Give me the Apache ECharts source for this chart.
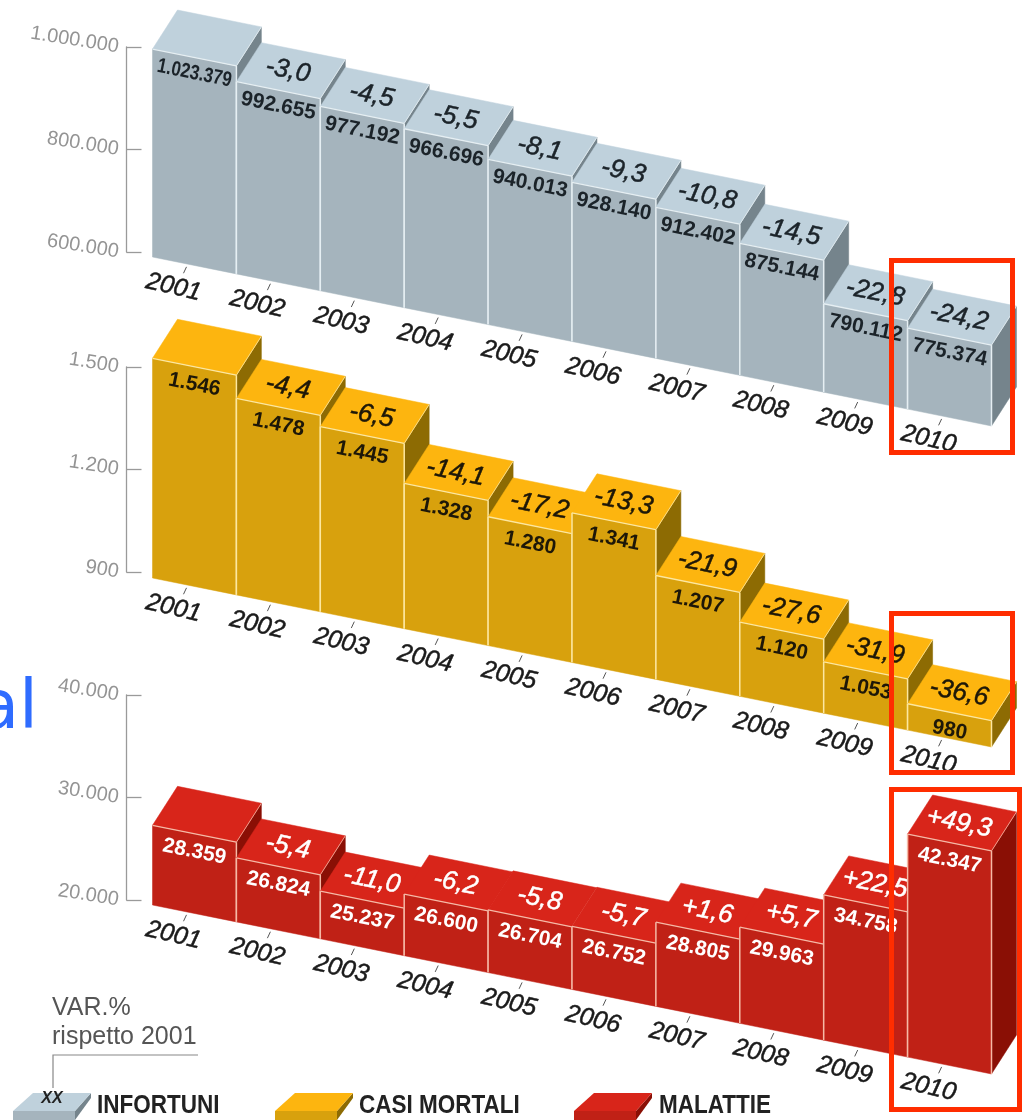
<!DOCTYPE html>
<html><head><meta charset="utf-8">
<style>html,body{margin:0;padding:0;background:#fff}#c{width:1027px;height:1120px}</style>
<script src="https://cdn.jsdelivr.net/npm/echarts@6/dist/echarts.min.js"></script>
</head><body><div id="c"></div>
<script>
const years = ['2001','2002','2003','2004','2005','2006','2007','2008','2009','2010'];
const infortuni = [1023379,992655,977192,966696,940013,928140,912402,875144,790112,775374];
const infortuniVar = [null,-3.0,-4.5,-5.5,-8.1,-9.3,-10.8,-14.5,-22.8,-24.2];
const mortali = [1546,1478,1445,1328,1280,1341,1207,1120,1053,980];
const mortaliVar = [null,-4.4,-6.5,-14.1,-17.2,-13.3,-21.9,-27.6,-31.9,-36.6];
const malattie = [28359,26824,25237,26600,26704,26752,28805,29963,34758,42347];
const malattieVar = [null,-5.4,-11.0,-6.2,-5.8,-5.7,1.6,5.7,22.5,49.3];

const SLOPE = 0.2014, LEFT = 152.5, WIDTH = 839, DX = 25, DY = -39;
const ANG = -Math.atan(SLOPE);
const FONT = '"Liberation Sans", Arial, sans-serif';

const panels = [
 {name:'INFORTUNI', vals:infortuni, vars:infortuniVar, top:47, min:600000, max:1000000, step:200000, base:257, off:14, ldy:16,
  cTop:'#bfd1dc', cFront:'#a5b4bd', cSide:'#75848c', cEdge:'#e6eff3', cText:'#1b2329'},
 {name:'CASI MORTALI', vals:mortali, vars:mortaliVar, top:367, min:900, max:1500, step:300, base:578, off:7, ldy:18,
  cTop:'#fdb50f', cFront:'#d8a10d', cSide:'#8d6b03', cEdge:'#fde7a0', cText:'#1d1708'},
 {name:'MALATTIE', vals:malattie, vars:malattieVar, top:695, min:20000, max:40000, step:10000, base:905, off:11, ldy:18,
  cTop:'#d8251a', cFront:'#c02116', cSide:'#8a0f05', cEdge:'#f6b9a6', cText:'#ffffff'}
];
const dots = n => String(n).replace(/\B(?=(\d{3})+(?!\d))/g,'.');
const pct = v => (v>0?'+':'') + v.toFixed(1).replace('.',',');

function render(pi){
 const P = panels[pi];
 return function(params, api){
  const i = params.dataIndex;
  const c = api.coord([api.value(0), api.value(1)]);
  const bw = api.size([1,0])[0];
  const x0 = c[0]-bw/2, x1 = c[0]+bw/2;
  const sh = x => (x-LEFT)*SLOPE;
  const t0 = c[1]+P.off+sh(x0), t1 = c[1]+P.off+sh(x1);
  const base = x => P.base+sh(x);
  const kids = [];
  const poly = (pts,fill) => kids.push({type:'polygon',shape:{points:pts},style:{fill:fill,stroke:fill,lineWidth:0.5}});
  const line = (a,b,col,w) => kids.push({type:'line',shape:{x1:a[0],y1:a[1],x2:b[0],y2:b[1]},style:{stroke:col,lineWidth:w}});
  poly([[x1,t1],[x1+DX,t1+DY],[x1+DX,base(x1)+DY],[x1,base(x1)]],P.cSide);
  poly([[x0,t0],[x0+DX,t0+DY],[x1+DX,t1+DY],[x1,t1]],P.cTop);
  poly([[x0,t0],[x1,t1],[x1,base(x1)],[x0,base(x0)]],P.cFront);
  line([x0,t0],[x1,t1],P.cEdge,1.3);
  line([x1,t1],[x1+DX,t1+DY],P.cEdge,0.8);
  line([x1,t1],[x1,base(x1)],P.cEdge,1.5);
  if(i>0) line([x0,t0],[x0,base(x0)],P.cEdge,1.5);
  // year tick and label
  line([x0+34,base(x0+34)+3],[x0+31,base(x0+31)+10],'#555',1);
  const lx = x0+21;
  kids.push({type:'text',x:lx,y:base(lx)+26,rotation:ANG-0.03,
    style:{text:years[i],font:'italic 25px '+FONT,fill:'#1a1a1a',stroke:'#1a1a1a',lineWidth:0.5,align:'center',verticalAlign:'middle'}});
  // value on the front face
  const s = dots(P.vals[i]);
  const long = s.length>7;
  kids.push({type:'text',x:c[0],y:c[1]+P.off+sh(c[0])+P.ldy,rotation:ANG,scaleY:long?1.22:1,
    style:{text:s,font:'bold '+(long?17:21)+'px '+FONT,fill:P.cText,align:'center',verticalAlign:'middle'}});
  // variation on the top face
  const v = P.vars[i];
  if(v!==null) kids.push({type:'text',x:c[0]+DX/2-3,y:c[1]+P.off+sh(c[0])+DY/2,rotation:ANG,
    style:{text:pct(v),font:'italic 26px '+FONT,fill:P.cText,stroke:P.cText,lineWidth:0.5,align:'center',verticalAlign:'middle'}});
  return {type:'group',children:kids};
 };
}

const grid=[], xAxis=[], yAxis=[], series=[];
panels.forEach((P,k)=>{
 grid.push({left:LEFT,top:P.top,width:WIDTH,height:205});
 xAxis.push({type:'category',gridIndex:k,data:years,show:false});
 yAxis.push({type:'value',gridIndex:k,min:P.min,max:P.max,interval:P.step,offset:26,scale:true,
  splitLine:{show:false},
  axisLine:{show:true,onZero:false,lineStyle:{color:'#9a9a9a',width:1.3}},
  axisTick:{show:true,inside:true,length:15,lineStyle:{color:'#9a9a9a',width:1.3}},
  axisLabel:{rotate:-9,margin:8,color:'#949494',fontSize:20,fontFamily:FONT,padding:[0,0,8,0],formatter:v=>dots(v)}});
 series.push({type:'custom',name:P.name,xAxisIndex:k,yAxisIndex:k,coordinateSystem:'cartesian2d',clip:false,
  encode:{x:0,y:1},data:years.map((y,i)=>[y,P.vals[i]]),renderItem:render(k),animation:false,silent:true});
});

const redBoxes=[[891.5,260.5,121,192],[891.5,613.5,121,159],[891.5,789.5,128,320]];
const legendIcons=[[13,'#bfd1dc','#a5b4bd','#75848c'],[275,'#fdb50f','#d8a10d','#8d6b03'],[574,'#d8251a','#c02116','#8a0f05']];
const graphic=[];
redBoxes.forEach(b=>graphic.push({type:'rect',z:100,shape:{x:b[0],y:b[1],width:b[2],height:b[3]},style:{fill:'none',stroke:'#ff2d00',lineWidth:5}}));
legendIcons.forEach(l=>{
 const x=l[0];
 graphic.push({type:'polygon',z:50,shape:{points:[[x+62,1111],[x+78,1093],[x+78,1098],[x+62,1120]]},style:{fill:l[3]}});
 graphic.push({type:'polygon',z:50,shape:{points:[[x,1111],[x+20,1093],[x+78,1093],[x+62,1111]]},style:{fill:l[1]}});
 graphic.push({type:'rect',z:50,shape:{x:x,y:1111,width:62,height:9},style:{fill:l[2]}});
});
graphic.push({type:'text',z:51,x:52,y:1099,style:{text:'XX',font:'italic bold 16px '+FONT,fill:'#222',align:'center',verticalAlign:'middle'}});
[['INFORTUNI',97],['CASI MORTALI',359],['MALATTIE',659]].forEach(t=>graphic.push({type:'text',z:51,x:t[1],y:1106,scaleX:0.9,
 style:{text:t[0],font:'bold 25px '+FONT,fill:'#222',align:'left',verticalAlign:'middle'}}));
graphic.push({type:'text',z:51,x:52,y:1008,style:{text:'VAR.%',font:'25px '+FONT,fill:'#555',align:'left',verticalAlign:'middle'}});
graphic.push({type:'text',z:51,x:52,y:1037,style:{text:'rispetto 2001',font:'25px '+FONT,fill:'#555',align:'left',verticalAlign:'middle'}});
graphic.push({type:'polyline',z:51,shape:{points:[[198,1055],[53,1055],[53,1088]]},style:{fill:'none',stroke:'#888',lineWidth:1.2}});
graphic.push({type:'text',z:51,x:38,y:710,style:{text:'al',font:'68px "DejaVu Sans", sans-serif',fill:'#2f6cff',align:'right',verticalAlign:'middle'}});

const chart=echarts.init(document.getElementById('c'),null,{renderer:'canvas'});
chart.setOption({animation:false,backgroundColor:'#fff',grid,xAxis,yAxis,series,graphic:{elements:graphic}});
</script></body></html>
